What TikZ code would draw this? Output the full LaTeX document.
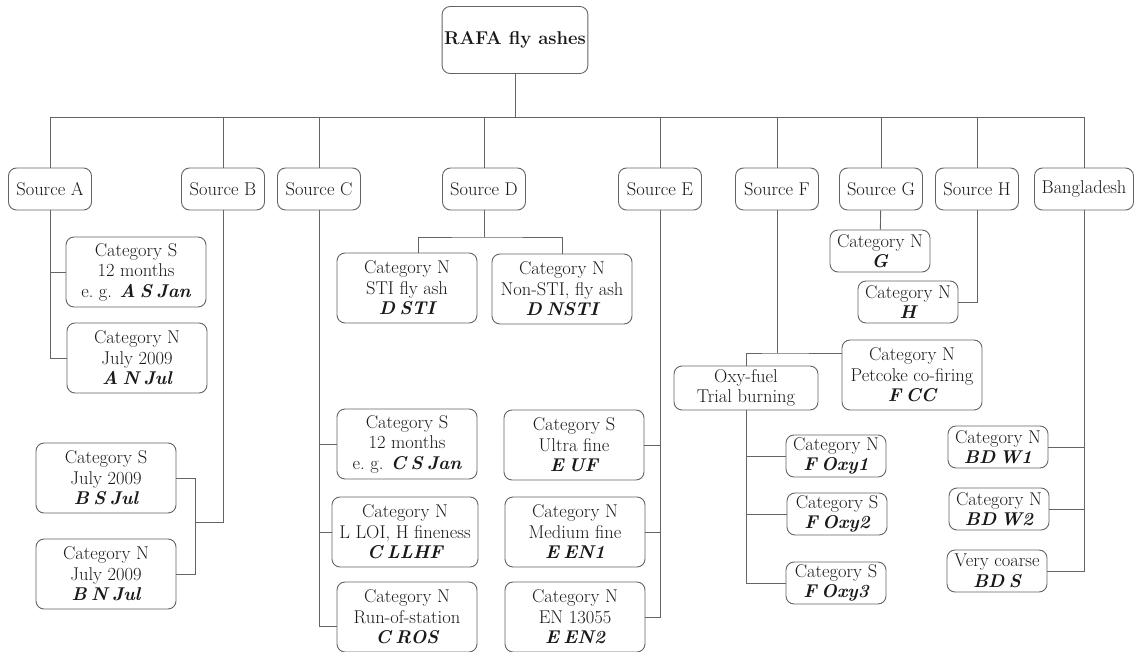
\documentclass[tikz,border=0pt]{standalone}
\usepackage{fontspec}
\usepackage{tikz}
\usepackage{xcolor}

\definecolor{linegray}{RGB}{100,100,100}
\definecolor{textgray}{RGB}{25,25,25}
\newcommand{\idtag}[1]{{\bfseries\itshape\spaceskip=0.24em plus 0.1em\relax #1}}

\tikzset{
  box/.style={draw=linegray, line width=0.9pt, rounded corners=8pt, align=center,
    text=textgray, inner sep=2pt, font=\fontsize{18.5}{20.5}\selectfont},
  srcbox/.style={box, minimum width=83pt, minimum height=42pt},
  catbox/.style={box, minimum width=140pt, minimum height=70pt},
  smallbox/.style={box, minimum width=100pt, minimum height=42pt},
  link/.style={draw=linegray, line width=0.9pt}
}

\begin{document}
\begin{tikzpicture}[x=1pt, y=-1pt]
    \useasboundingbox (0,0) rectangle (1135,652);

    \node[box, minimum width=135pt, minimum height=67pt] (root) at (515,40) {\textbf{RAFA fly ashes}};

    % sources
    \node[srcbox] (srca) at (50,189) {Source A};
    \node[srcbox] (srcb) at (223,189) {Source B};
    \node[srcbox] (srcc) at (319,189) {Source C};
    \node[srcbox] (srcd) at (484,189) {Source D};
    \node[srcbox] (srce) at (660,189) {Source E};
    \node[srcbox] (srcf) at (777,189) {Source F};
    \node[srcbox] (srcg) at (881,189) {Source G};
    \node[srcbox] (srch) at (977,189) {Source H};
    \node[srcbox, minimum width=99pt] (srcbd) at (1084,189) {Bangladesh};

    \coordinate (bus) at (515,117);
    \draw[link] (root) -- (bus);
    \foreach \s in {srca,srcb,srcc,srcd,srce,srcf,srcg,srch,srcbd}
        \draw[link] (bus) -| (\s);

    % source A
    \node[catbox] (asjan) at (136,272) {Category S\\12 months\\e.\ g. \idtag{A S Jan}};
    \node[catbox] (anjul) at (137,358) {Category N\\July 2009\\\idtag{A N Jul}};
    \draw[link] (srca) |- (asjan);
    \draw[link] (srca) |- (anjul);

    % source B
    \node[catbox] (bsjul) at (106,478) {Category S\\July 2009\\\idtag{B S Jul}};
    \node[catbox] (bnjul) at (106,574) {Category N\\July 2009\\\idtag{B N Jul}};
    \coordinate (bjoin) at (195,522);
    \draw[link] (srcb) |- (bjoin);
    \draw[link] (bsjul) -| (bjoin);
    \draw[link] (bnjul) -| (bjoin);

    % source C
    \node[catbox] (csjan) at (407,444) {Category S\\12 months\\e.\ g. \idtag{C S Jan}};
    \node[catbox, minimum width=146pt] (cllhf) at (405,532) {Category N\\L LOI, H fineness\\\idtag{C LLHF}};
    \node[catbox] (cros) at (407,617) {Category N\\Run-of-station\\\idtag{C ROS}};
    \draw[link] (srcc) |- (csjan);
    \draw[link] (srcc) |- (cllhf);
    \draw[link] (srcc) |- ([yshift=-9pt]cros.west);

    % source D
    \node[catbox] (dsti) at (407,288) {Category N\\STI fly ash\\\idtag{D STI}};
    \node[catbox] (dnsti) at (562,289) {Category N\\Non-STI, fly ash\\\idtag{D NSTI}};
    \coordinate (dbar) at (484,237);
    \draw[link] (srcd) -- (dbar);
    \draw[link] ([xshift=11pt]dsti.north) |- (dbar) -| (dnsti);

    % source E
    \node[catbox] (euf) at (574,445) {Category S\\Ultra fine\\\idtag{E UF}};
    \node[catbox] (een1) at (575,532) {Category N\\Medium fine\\\idtag{E EN1}};
    \node[catbox] (een2) at (575,617) {Category N\\EN 13055\\\idtag{E EN2}};
    \draw[link] (srce) |- (euf);
    \draw[link] (srce) |- (een1);
    \draw[link] (srce) |- (een2);

    % source F
    \node[box, minimum width=144pt, minimum height=44pt] (oxy) at (746,388) {Oxy-fuel\\Trial burning};
    \node[catbox] (fcc) at (912,375) {Category N\\Petcoke co-firing\\\idtag{F CC}};
    \coordinate (fbar) at (777,353);
    \draw[link] (srcf) -- (fbar);
    \draw[link] (oxy) |- (fbar) -- (fbar -| fcc.west);
    \node[smallbox] (foxy1) at (836,456) {Category N\\\idtag{F Oxy1}};
    \node[smallbox] (foxy2) at (837,514) {Category S\\\idtag{F Oxy2}};
    \node[smallbox] (foxy3) at (836,583) {Category S\\\idtag{F Oxy3}};
    \draw[link] (oxy) |- (foxy1);
    \draw[link] (oxy) |- (foxy2);
    \draw[link] (oxy) |- (foxy3);

    % sources G and H
    \node[smallbox] (catg) at (880,251) {Category N\\\idtag{G}};
    \node[smallbox] (cath) at (908,302) {Category N\\\idtag{H}};
    \draw[link] (srcg) -- (catg);
    \draw[link] (srch) |- (cath);

    % Bangladesh
    \node[smallbox] (bdw1) at (998,447) {Category N\\\idtag{BD W1}};
    \node[smallbox] (bdw2) at (999,509) {Category N\\\idtag{BD W2}};
    \node[smallbox] (bds) at (997,571) {Very coarse\\\idtag{BD S}};
    \draw[link] (srcbd) |- (bdw1);
    \draw[link] (srcbd) |- (bdw2);
    \draw[link] (srcbd) |- (bds);
\end{tikzpicture}
\end{document}
